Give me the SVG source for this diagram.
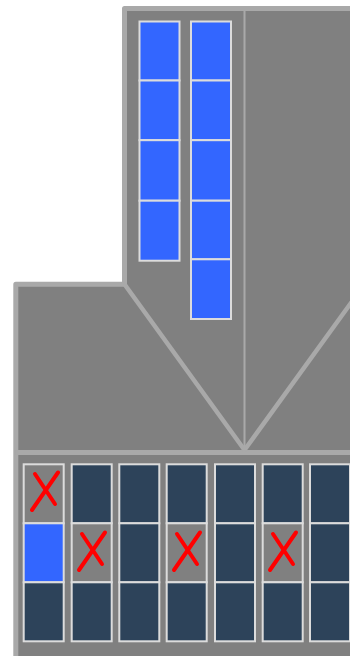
<svg xmlns="http://www.w3.org/2000/svg" width="350" height="656" viewBox="0 0 350 656">
<style>
.frame{fill:#808080;stroke:#a9a9a9;stroke-width:5;stroke-linejoin:round}
.ln{stroke:#a9a9a9;fill:none}
.c{stroke:#dcdcdc;stroke-width:2}
.b{fill:#3366ff}
.d{fill:#2d435a}
.g{fill:#808080}
.x{stroke:#ff0000;stroke-width:4;stroke-linecap:round;fill:none}
</style>
<defs>
<g id="xm"><line class="x" x1="9" y1="46" x2="35" y2="8.5"/><line class="x" x1="12" y1="10" x2="32" y2="40"/></g>
</defs>
<rect width="350" height="656" fill="#ffffff"/>
<g id="structure">
<polygon class="frame" points="124.5,8.5 362,8.5 362,664 15.8,664 15.8,284.2 124.5,284.2"/>
</g>
<g id="connectors">
<line class="ln" x1="15.8" y1="452.5" x2="362" y2="452.5" stroke-width="5"/>
<line class="ln" x1="244.5" y1="10" x2="244.5" y2="451" stroke-width="2"/>
<polyline class="ln" points="124.5,284.2 244.5,450 364.5,284.2" stroke-width="4.5" stroke-linejoin="round"/>
</g>
<g id="top-col1">
<rect class="c b" x="139.5" y="21.5" width="40" height="59"/>
<rect class="c b" x="139.5" y="80.5" width="40" height="59.7"/>
<rect class="c b" x="139.5" y="140.2" width="40" height="60.5"/>
<rect class="c b" x="139.5" y="200.7" width="40" height="60"/>
</g>
<g id="top-col2">
<rect class="c b" x="191" y="21.5" width="40" height="59"/>
<rect class="c b" x="191" y="80.5" width="40" height="59.7"/>
<rect class="c b" x="191" y="140.2" width="40" height="60.5"/>
<rect class="c b" x="191" y="200.7" width="40" height="58.6"/>
<rect class="c b" x="191" y="259.3" width="40" height="59.7"/>
</g>
<g id="bot-col1">
<rect class="c g" x="23.7" y="464.3" width="40" height="59"/>
<rect class="c b" x="23.7" y="523.3" width="40" height="59"/>
<rect class="c d" x="23.7" y="582.3" width="40" height="59"/>
<use href="#xm" x="23" y="464"/>
</g>
<g id="bot-col2">
<rect class="c d" x="71.7" y="464.3" width="40" height="59"/>
<rect class="c g" x="71.7" y="523.3" width="40" height="59"/>
<rect class="c d" x="71.7" y="582.3" width="40" height="59"/>
<use href="#xm" x="70" y="524"/>
</g>
<g id="bot-col3">
<rect class="c d" x="119.3" y="464.3" width="40" height="59"/>
<rect class="c d" x="119.3" y="523.3" width="40" height="59"/>
<rect class="c d" x="119.3" y="582.3" width="40" height="59"/>
</g>
<g id="bot-col4">
<rect class="c d" x="166.7" y="464.3" width="40" height="59"/>
<rect class="c g" x="166.7" y="523.3" width="40" height="59"/>
<rect class="c d" x="166.7" y="582.3" width="40" height="59"/>
<use href="#xm" x="165" y="524"/>
</g>
<g id="bot-col5">
<rect class="c d" x="215" y="464.3" width="40" height="59"/>
<rect class="c d" x="215" y="523.3" width="40" height="59"/>
<rect class="c d" x="215" y="582.3" width="40" height="59"/>
</g>
<g id="bot-col6">
<rect class="c d" x="262.7" y="464.3" width="40" height="59"/>
<rect class="c g" x="262.7" y="523.3" width="40" height="59"/>
<rect class="c d" x="262.7" y="582.3" width="40" height="59"/>
<use href="#xm" x="261" y="524"/>
</g>
<g id="bot-col7">
<rect class="c d" x="310" y="464.3" width="40" height="59"/>
<rect class="c d" x="310" y="523.3" width="40" height="59"/>
<rect class="c d" x="310" y="582.3" width="40" height="59"/>
</g>
</svg>
